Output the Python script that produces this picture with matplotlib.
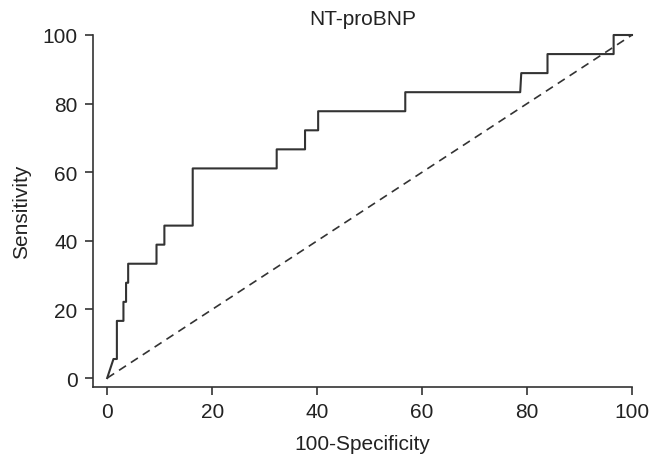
import matplotlib
matplotlib.use("Agg")
import matplotlib.pyplot as plt

# ROC curve points (100-specificity, sensitivity)
fpr = [0, 1.2, 1.85, 1.85, 3.1, 3.1, 3.6, 3.6, 4.0, 4.0, 9.4, 9.4, 10.9, 10.9,
       16.3, 16.3, 32.3, 32.3, 37.7, 37.7, 40.2, 40.2, 56.8, 56.8, 78.7, 78.9,
       83.9, 83.9, 96.5, 96.5, 100]
tpr = [0, 5.56, 5.56, 16.67, 16.67, 22.22, 22.22, 27.78, 27.78, 33.33, 33.33,
       38.89, 38.89, 44.44, 44.44, 61.11, 61.11, 66.67, 66.67, 72.22, 72.22,
       77.78, 77.78, 83.33, 83.33, 88.89, 88.89, 94.44, 94.44, 100, 100]
ref_line = [0, 100]
ticks = [0, 20, 40, 60, 80, 100]

plt.rcParams['font.family'] = ['Liberation Sans', 'DejaVu Sans']
ink = '#333333'
txt = '#222222'

fig = plt.figure(figsize=(6.51, 4.56), dpi=100)
ax = fig.add_axes([93 / 651, 1 - 388 / 456, (632 - 93) / 651, (388 - 36) / 456])

ax.plot(fpr, tpr, color=ink, lw=1.5, clip_on=False)
ax.plot(ref_line, ref_line, color=ink, lw=1.2, ls=(0, (5, 3.5)), clip_on=False)

ax.set_xlim(-2.7, 100)
ax.set_ylim(-2.6, 100)
ax.set_xticks(ticks)
ax.set_yticks(ticks)
for s in ['top', 'right']:
    ax.spines[s].set_visible(False)
for s in ['left', 'bottom']:
    ax.spines[s].set_color(ink)
    ax.spines[s].set_linewidth(1.2)
ax.tick_params(colors=ink, labelcolor=txt, labelsize=15, length=6,
               width=1.2, pad=5)

ax.set_xlabel('100-Specificity', fontsize=15, color=txt, labelpad=9)
ax.set_ylabel('Sensitivity', fontsize=15, color=txt, labelpad=8)
ax.set_title('NT-proBNP', fontsize=15, color=txt, pad=8)

fig.savefig('out.png', dpi=100)
